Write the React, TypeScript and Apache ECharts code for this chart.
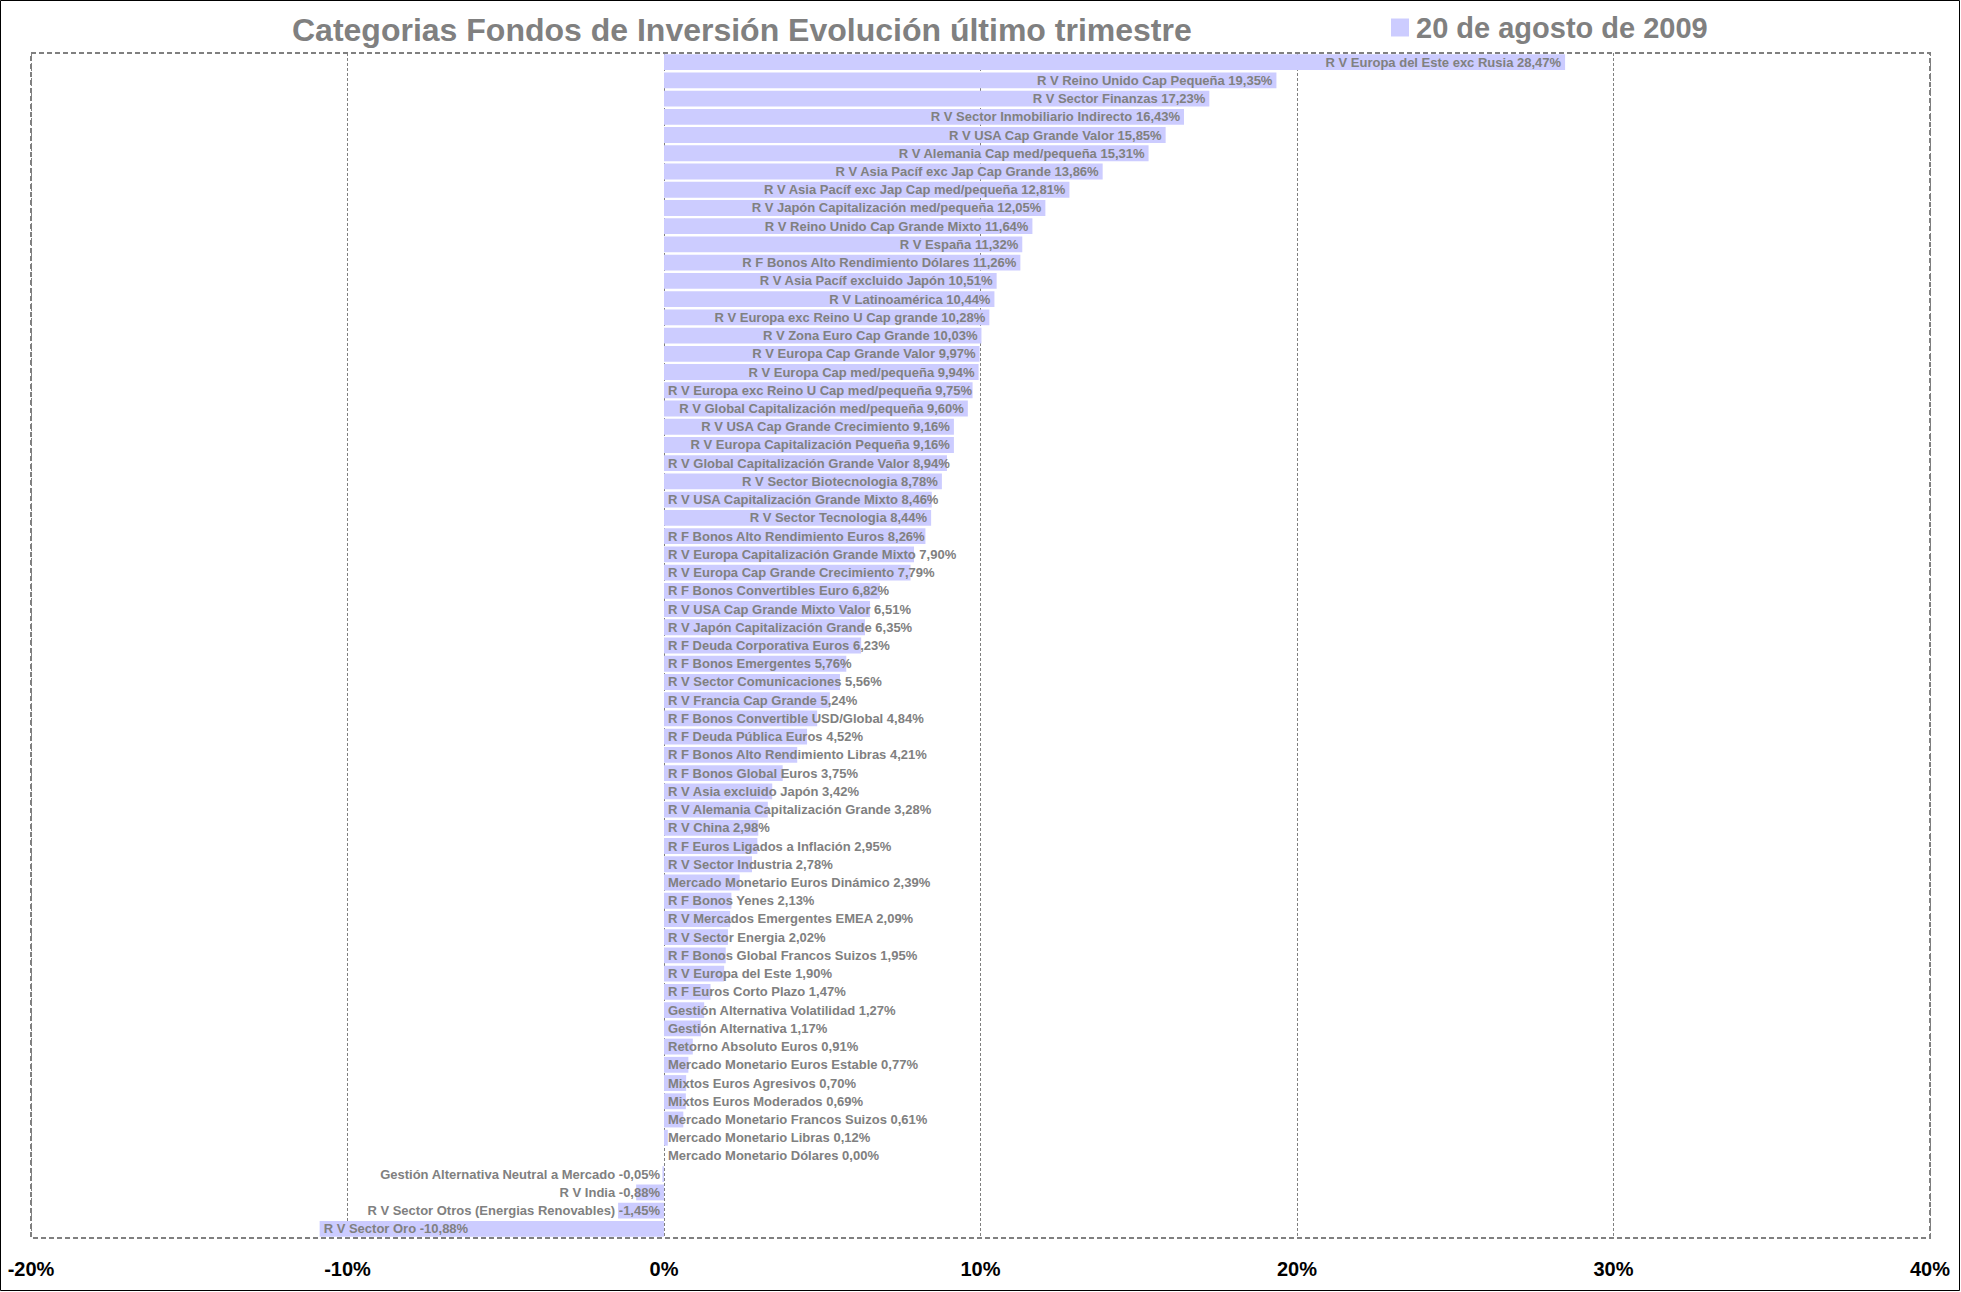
import React, { useEffect, useRef } from "react";
import * as echarts from "echarts";

const titleText = "Categorias Fondos de Inversión Evolución último trimestre";
const seriesName = "20 de agosto de 2009";

const categories = [
  "R V Europa del Este exc Rusia",
  "R V Reino Unido Cap Pequeña",
  "R V Sector Finanzas",
  "R V Sector Inmobiliario Indirecto",
  "R V USA Cap Grande Valor",
  "R V Alemania Cap med/pequeña",
  "R V Asia Pacíf exc Jap Cap Grande",
  "R V Asia Pacíf exc Jap Cap med/pequeña",
  "R V Japón Capitalización med/pequeña",
  "R V Reino Unido Cap Grande Mixto",
  "R V España",
  "R F Bonos Alto Rendimiento Dólares",
  "R V Asia Pacíf excluido Japón",
  "R V Latinoamérica",
  "R V Europa exc Reino U Cap grande",
  "R V Zona Euro Cap Grande",
  "R V Europa Cap Grande Valor",
  "R V Europa Cap med/pequeña",
  "R V Europa exc Reino U Cap med/pequeña",
  "R V Global Capitalización med/pequeña",
  "R V USA Cap Grande Crecimiento",
  "R V Europa Capitalización Pequeña",
  "R V Global Capitalización Grande Valor",
  "R V Sector Biotecnologia",
  "R V USA Capitalización Grande Mixto",
  "R V Sector Tecnologia",
  "R F Bonos Alto Rendimiento Euros",
  "R V Europa Capitalización Grande Mixto",
  "R V Europa Cap Grande Crecimiento",
  "R F Bonos Convertibles Euro",
  "R V USA Cap Grande Mixto Valor",
  "R V Japón Capitalización Grande",
  "R F Deuda Corporativa Euros",
  "R F Bonos Emergentes",
  "R V Sector Comunicaciones",
  "R V Francia Cap Grande",
  "R F Bonos Convertible USD/Global",
  "R F Deuda Pública Euros",
  "R F Bonos Alto Rendimiento Libras",
  "R F Bonos Global Euros",
  "R V Asia excluido Japón",
  "R V Alemania Capitalización Grande",
  "R V China",
  "R F Euros Ligados a Inflación",
  "R V Sector Industria",
  "Mercado Monetario Euros Dinámico",
  "R F Bonos Yenes",
  "R V Mercados Emergentes EMEA",
  "R V Sector Energia",
  "R F Bonos Global Francos Suizos",
  "R V Europa del Este",
  "R F Euros Corto Plazo",
  "Gestión Alternativa Volatilidad",
  "Gestión Alternativa",
  "Retorno Absoluto Euros",
  "Mercado Monetario Euros Estable",
  "Mixtos Euros Agresivos",
  "Mixtos Euros Moderados",
  "Mercado Monetario Francos Suizos",
  "Mercado Monetario Libras",
  "Mercado Monetario Dólares",
  "Gestión Alternativa Neutral a Mercado",
  "R V India",
  "R V Sector Otros (Energias Renovables)",
  "R V Sector Oro",
];

const values = [
  28.47, 19.35, 17.23, 16.43, 15.85, 15.31, 13.86, 12.81, 12.05, 11.64,
  11.32, 11.26, 10.51, 10.44, 10.28, 10.03, 9.97, 9.94, 9.75, 9.6,
  9.16, 9.16, 8.94, 8.78, 8.46, 8.44, 8.26, 7.9, 7.79, 6.82,
  6.51, 6.35, 6.23, 5.76, 5.56, 5.24, 4.84, 4.52, 4.21, 3.75,
  3.42, 3.28, 2.98, 2.95, 2.78, 2.39, 2.13, 2.09, 2.02, 1.95,
  1.9, 1.47, 1.27, 1.17, 0.91, 0.77, 0.7, 0.69, 0.61, 0.12,
  0.0, -0.05, -0.88, -1.45, -10.88,
];

const xMin = -20;
const xMax = 40;
const xInterval = 10;

const W = 1961;
const H = 1292;
const GRID = { left: 31, top: 53, right: 31, bottom: 54 };
const LABEL_PAD = 4;
const LABEL_FONT_SIZE = 13;
const LABEL_FAMILY = '"Liberation Sans", Arial, sans-serif';
const HEAD_FAMILY = '"Liberation Sans", Arial, sans-serif';

const fmt = (v: number) => v.toFixed(2).replace(".", ",");
const labelText = (i: number) => `${categories[i]} ${fmt(values[i])}%`;

export default function App() {
  const ref = useRef<HTMLDivElement>(null);
  useEffect(() => {
    const chart = echarts.init(ref.current!, null, { renderer: "svg" });
    const option: any = {
      animation: false,
      backgroundColor: "#ffffff",
      title: {
        text: titleText,
        left: 292,
        top: 14,
        padding: 0,
        textStyle: {
          color: "#808080",
          fontSize: 32,
          fontWeight: "bold",
          fontFamily: HEAD_FAMILY,
        },
      },
      legend: {
        left: 1391,
        top: 13,
        padding: 0,
        icon: "rect",
        itemWidth: 18,
        itemHeight: 18,
        itemGap: 0,
        textStyle: {
          color: "#808080",
          fontSize: 29,
          fontWeight: "bold",
          fontFamily: HEAD_FAMILY,
          padding: [0, 0, 0, 2],
        },
        data: [seriesName],
      },
      grid: { ...GRID, containLabel: false },
      xAxis: {
        type: "value",
        min: xMin,
        max: xMax,
        interval: xInterval,
        axisLine: { show: false },
        axisTick: { show: false },
        axisLabel: {
          formatter: "{value}%",
          color: "#000000",
          fontSize: 20,
          fontWeight: "bold",
          fontFamily: '"Liberation Sans Narrow", "Arial Narrow", "Liberation Sans", sans-serif',
          margin: 21,
        },
        splitLine: {
          show: true,
          lineStyle: { color: "#808080", width: 1, type: [3, 2] },
        },
      },
      yAxis: {
        type: "category",
        inverse: true,
        data: categories,
        axisLine: { show: false },
        axisTick: { show: false },
        axisLabel: { show: false },
        splitLine: { show: false },
      },
      graphic: [
        {
          type: "rect",
          silent: true,
          z: 100,
          shape: {
            x: GRID.left,
            y: GRID.top,
            width: W - GRID.left - GRID.right,
            height: H - GRID.top - GRID.bottom,
          },
          style: { fill: "none", stroke: "#808080", lineWidth: 2, lineDash: [5, 3] },
        },
        {
          type: "rect",
          silent: true,
          z: 100,
          shape: { x: 0.5, y: 0.5, width: W - 2, height: H - 2 },
          style: { fill: "none", stroke: "#000000", lineWidth: 1 },
        },
      ],
      series: [
        {
          name: seriesName,
          type: "bar",
          barCategoryGap: "13%",
          itemStyle: { color: "#CCCCFF" },
          label: {
            show: true,
            position: "insideLeft",
            distance: LABEL_PAD,
            color: "#808080",
            fontSize: LABEL_FONT_SIZE,
            fontWeight: "bold",
            fontFamily: LABEL_FAMILY,
            formatter: (p: any) => labelText(p.dataIndex),
          },
          data: values,
        },
      ],
    };
    chart.setOption(option);

    const canvas = document.createElement("canvas");
    const ctx = canvas.getContext("2d")!;
    ctx.font = `bold ${LABEL_FONT_SIZE}px ${LABEL_FAMILY}`;
    const zero = chart.convertToPixel({ xAxisIndex: 0 }, 0) as number;
    const data = values.map((v, i) => {
      const end = chart.convertToPixel({ xAxisIndex: 0 }, v) as number;
      const barPx = Math.abs(end - zero);
      const w = ctx.measureText(labelText(i)).width;
      const fits = w + 2 * LABEL_PAD <= barPx;
      let position: string;
      if (v >= 0) position = fits ? "insideRight" : "insideLeft";
      else position = fits ? "insideLeft" : "insideRight";
      return { value: v, label: { position } };
    });
    chart.setOption({ series: [{ data }] });

    return () => chart.dispose();
  }, []);
  return (
    <div
      ref={ref}
      style={{ position: "absolute", left: 0, top: 0, width: W, height: H }}
    />
  );
}
